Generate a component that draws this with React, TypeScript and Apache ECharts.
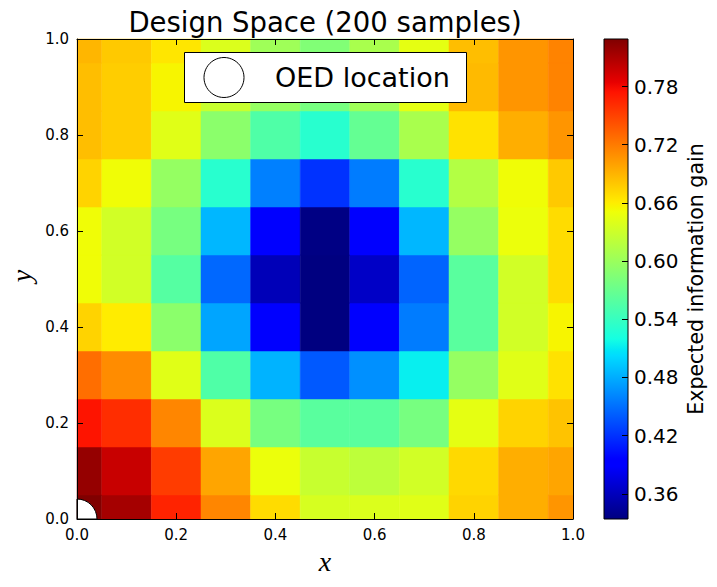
import React, { useEffect, useRef } from "react";
import * as echarts from "echarts";

// ---- data -------------------------------------------------------------
const xCenters = [0, 0.1, 0.2, 0.3, 0.4, 0.5, 0.6, 0.7, 0.8, 0.9, 1.0];
const yCenters = [0, 0.1, 0.2, 0.3, 0.4, 0.5, 0.6, 0.7, 0.8, 0.9, 1.0];

// expected information gain, one array per y row (x from 0 to 1)
const gainY00 = [0.829, 0.813, 0.766, 0.714, 0.669, 0.636, 0.639, 0.642, 0.674, 0.693, 0.706];
const gainY01 = [0.820, 0.798, 0.753, 0.698, 0.649, 0.627, 0.621, 0.633, 0.671, 0.693, 0.698];
const gainY02 = [0.774, 0.761, 0.714, 0.639, 0.579, 0.561, 0.561, 0.579, 0.645, 0.674, 0.682];
const gainY03 = [0.727, 0.711, 0.642, 0.555, 0.483, 0.439, 0.466, 0.512, 0.597, 0.642, 0.666];
const gainY04 = [0.674, 0.661, 0.591, 0.476, 0.393, 0.334, 0.393, 0.456, 0.561, 0.633, 0.656];
const gainY05 = [0.652, 0.633, 0.558, 0.446, 0.358, 0.334, 0.364, 0.444, 0.561, 0.633, 0.669];
const gainY06 = [0.652, 0.633, 0.579, 0.485, 0.393, 0.336, 0.393, 0.485, 0.597, 0.649, 0.669];
const gainY07 = [0.674, 0.652, 0.597, 0.531, 0.458, 0.420, 0.456, 0.531, 0.615, 0.652, 0.679];
const gainY08 = [0.685, 0.677, 0.642, 0.591, 0.555, 0.531, 0.567, 0.609, 0.666, 0.693, 0.706];
const gainY09 = [0.685, 0.677, 0.656, 0.627, 0.597, 0.579, 0.603, 0.645, 0.687, 0.706, 0.716];
const gainY10 = [0.689, 0.679, 0.664, 0.639, 0.603, 0.585, 0.609, 0.645, 0.685, 0.706, 0.716];

const oedX = [0];
const oedY = [0];

const axisTicks = [0, 0.2, 0.4, 0.6, 0.8, 1.0];
const colorbarTicks = [0.36, 0.42, 0.48, 0.54, 0.6, 0.66, 0.72, 0.78];

const titleText = "Design Space (200 samples)";
const legendLabel = "OED location";
const colorbarLabel = "Expected information gain";
const xLabel = "x";
const yLabel = "y";

// ---- jet colormap (matplotlib) ----------------------------------------
const jetR = [[0, 0], [0.35, 0], [0.66, 1], [0.89, 1], [1, 0.5]];
const jetG = [[0, 0], [0.125, 0], [0.375, 1], [0.64, 1], [0.91, 0], [1, 0]];
const jetB = [[0, 0.5], [0.11, 1], [0.34, 1], [0.65, 0], [1, 0]];
function seg(t: number, pts: number[][]) {
  if (t <= pts[0][0]) return pts[0][1];
  for (let i = 1; i < pts.length; i++) {
    if (t <= pts[i][0]) {
      const [x0, y0] = pts[i - 1];
      const [x1, y1] = pts[i];
      return y0 + ((t - x0) / (x1 - x0)) * (y1 - y0);
    }
  }
  return pts[pts.length - 1][1];
}
function jet(t: number) {
  const r = Math.round(seg(t, jetR) * 255);
  const g = Math.round(seg(t, jetG) * 255);
  const b = Math.round(seg(t, jetB) * 255);
  return `rgb(${r},${g},${b})`;
}
const jetBreaks = [0, 0.11, 0.125, 0.34, 0.35, 0.375, 0.64, 0.65, 0.66, 0.89, 0.91, 1];

const FONT = "DejaVu Sans";

export default function App() {
  const ref = useRef<HTMLDivElement>(null);

  useEffect(() => {
    if (!ref.current) return;
    const chart = echarts.init(ref.current, null, { renderer: "svg" });

    const rows = [gainY00, gainY01, gainY02, gainY03, gainY04, gainY05, gainY06, gainY07, gainY08, gainY09, gainY10];
    const cells: number[][] = [];
    yCenters.forEach((y, j) => xCenters.forEach((x, i) => cells.push([x, y, rows[j][i]])));
    const vals = cells.map((c) => c[2]);
    const vmin = Math.min(...vals);
    const vmax = Math.max(...vals);
    const hw = (xCenters[1] - xCenters[0]) / 2;
    const hh = (yCenters[1] - yCenters[0]) / 2;

    const mapColors: string[] = [];
    for (let k = 0; k <= 256; k++) mapColors.push(jet(k / 256));

    const tickStyle = { color: "#000", width: 1 };
    const lineStyle = { color: "#000", width: 1 };
    const axisInterval = axisTicks[1] - axisTicks[0];

    const option: any = {
      animation: false,
      backgroundColor: "#fff",
      grid: [
        { left: 77, top: 39, width: 496, height: 480, containLabel: false },
        { left: 604, top: 39, width: 24, height: 480, containLabel: false },
      ],
      visualMap: {
        type: "continuous",
        show: false,
        seriesIndex: 0,
        dimension: 2,
        min: vmin,
        max: vmax,
        inRange: { color: mapColors },
      },
      xAxis: [
        {
          gridIndex: 0, type: "value", min: axisTicks[0], max: axisTicks[axisTicks.length - 1], interval: axisInterval, position: "bottom", z: 5,
          axisLine: { show: true, onZero: false, lineStyle },
          axisTick: { show: true, inside: true, length: 6, lineStyle: tickStyle },
          axisLabel: { show: true, color: "#000", fontSize: 15, fontFamily: FONT, margin: 8, formatter: (v: number) => v.toFixed(1) },
          splitLine: { show: false },
        },
        {
          gridIndex: 0, type: "value", min: axisTicks[0], max: axisTicks[axisTicks.length - 1], interval: axisInterval, position: "top", z: 5,
          axisLine: { show: true, onZero: false, lineStyle },
          axisTick: { show: true, inside: true, length: 6, lineStyle: tickStyle },
          axisLabel: { show: false },
          splitLine: { show: false },
        },
        { gridIndex: 1, type: "value", min: 0, max: 1, show: false },
      ],
      yAxis: [
        {
          gridIndex: 0, type: "value", min: axisTicks[0], max: axisTicks[axisTicks.length - 1], interval: axisInterval, position: "left", z: 5,
          axisLine: { show: true, onZero: false, lineStyle },
          axisTick: { show: true, inside: true, length: 6, lineStyle: tickStyle },
          axisLabel: { show: true, color: "#000", fontSize: 15, fontFamily: FONT, margin: 8, formatter: (v: number) => v.toFixed(1) },
          splitLine: { show: false },
        },
        {
          gridIndex: 0, type: "value", min: axisTicks[0], max: axisTicks[axisTicks.length - 1], interval: axisInterval, position: "right", z: 5,
          axisLine: { show: true, onZero: false, lineStyle },
          axisTick: { show: true, inside: true, length: 6, lineStyle: tickStyle },
          axisLabel: { show: false },
          splitLine: { show: false },
        },
        {
          gridIndex: 1, type: "value", min: vmin, max: vmax, position: "right", z: 5,
          axisLine: { show: false, onZero: false },
          axisTick: { show: true, inside: true, length: 6, lineStyle: tickStyle, customValues: colorbarTicks },
          axisLabel: {
            show: true, color: "#000", fontSize: 20, fontFamily: FONT, margin: 6,
            customValues: colorbarTicks, formatter: (v: number) => v.toFixed(2),
          },
          splitLine: { show: false },
        },
      ],
      series: [
        {
          type: "custom",
          name: "gain",
          xAxisIndex: 0,
          yAxisIndex: 0,
          z: 2,
          data: cells,
          renderItem: (params: any, api: any) => {
            const x = api.value(0);
            const y = api.value(1);
            const p0 = api.coord([x - hw, y + hh]);
            const p1 = api.coord([x + hw, y - hh]);
            const cs = params.coordSys;
            const rect = echarts.graphic.clipRectByRect(
              { x: p0[0], y: p0[1], width: p1[0] - p0[0], height: p1[1] - p0[1] },
              { x: cs.x, y: cs.y, width: cs.width, height: cs.height }
            );
            if (!rect) return null;
            const c = api.visual("color");
            return { type: "rect", shape: rect, style: { fill: c, stroke: c, lineWidth: 0.5 } };
          },
        },
        {
          type: "custom",
          name: legendLabel,
          xAxisIndex: 0,
          yAxisIndex: 0,
          z: 3,
          data: oedX.map((x, i) => [x, oedY[i]]),
          renderItem: (params: any, api: any) => {
            const p = api.coord([api.value(0), api.value(1)]);
            return {
              type: "sector",
              shape: { cx: p[0], cy: p[1], r0: 0, r: 20, startAngle: -Math.PI / 2, endAngle: 0, clockwise: true },
              style: { fill: "#fff", stroke: "#000", lineWidth: 1 },
            };
          },
        },
        {
          type: "custom",
          name: "colorbar",
          xAxisIndex: 2,
          yAxisIndex: 2,
          z: 2,
          data: [[0, vmin, vmax]],
          renderItem: (params: any, api: any) => {
            const pTop = api.coord([0, api.value(2)]);
            const pBot = api.coord([1, api.value(1)]);
            const stops = jetBreaks.map((b) => ({ offset: b, color: jet(b) }));
            return {
              type: "rect",
              shape: { x: pTop[0], y: pTop[1], width: pBot[0] - pTop[0], height: pBot[1] - pTop[1] },
              style: {
                fill: new echarts.graphic.LinearGradient(0, 1, 0, 0, stops),
                stroke: "#000",
                lineWidth: 1,
              },
            };
          },
        },
      ],
      graphic: [
        {
          type: "text", x: 325, y: 22, z: 100,
          style: { text: titleText, fontSize: 27.5, fontFamily: FONT, fill: "#000", align: "center", verticalAlign: "middle" },
        },
        {
          type: "text", x: 325, y: 561, z: 100,
          style: { text: xLabel, fontSize: 28, fontFamily: "Liberation Serif", fontStyle: "italic", fill: "#000", align: "center", verticalAlign: "middle" },
        },
        {
          type: "text", x: 21, y: 276, z: 100, rotation: Math.PI / 2,
          style: { text: yLabel, fontSize: 28, fontFamily: "Liberation Serif", fontStyle: "italic", fill: "#000", align: "center", verticalAlign: "middle" },
        },
        {
          type: "text", x: 696, y: 279, z: 100, rotation: Math.PI / 2,
          style: { text: colorbarLabel, fontSize: 20.5, fontFamily: FONT, fill: "#000", align: "center", verticalAlign: "middle" },
        },
        {
          type: "rect", z: 100,
          shape: { x: 184.5, y: 52.5, width: 282, height: 50 },
          style: { fill: "#fff", stroke: "#000", lineWidth: 1 },
        },
        {
          type: "circle", z: 101,
          shape: { cx: 224, cy: 77.5, r: 20 },
          style: { fill: "#fff", stroke: "#000", lineWidth: 1 },
        },
        {
          type: "text", x: 275, y: 77, z: 101,
          style: { text: legendLabel, fontSize: 27, fontFamily: FONT, fill: "#000", align: "left", verticalAlign: "middle" },
        },
      ],
    };

    chart.setOption(option);
    return () => chart.dispose();
  }, []);

  return (
    <div
      ref={ref}
      style={{ position: "fixed", left: 0, top: 0, width: 717, height: 587, background: "#fff" }}
    />
  );
}
